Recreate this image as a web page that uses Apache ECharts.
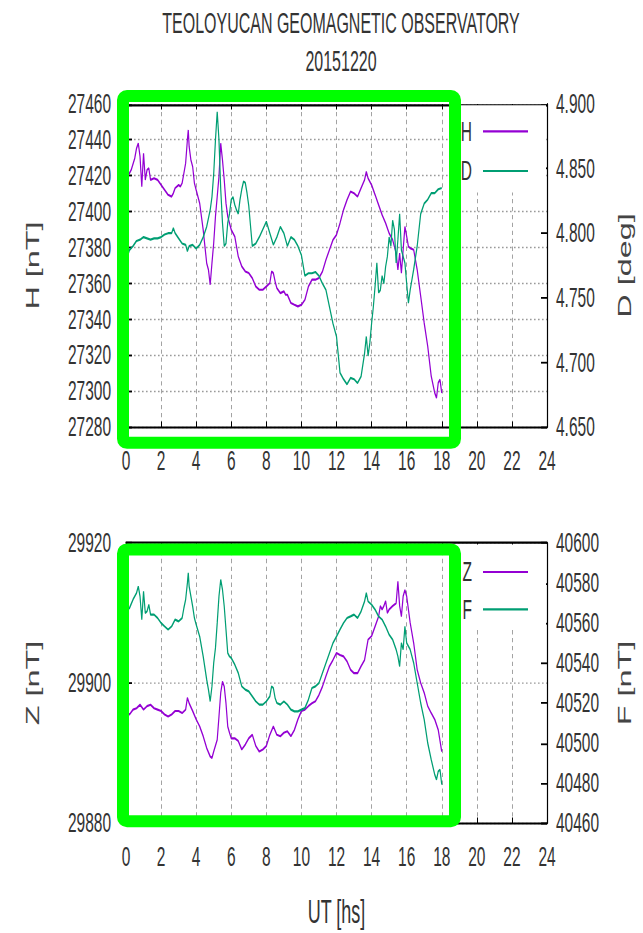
<!DOCTYPE html>
<html>
<head>
<meta charset="utf-8">
<script src="https://cdn.jsdelivr.net/npm/echarts@6/dist/echarts.min.js"></script>
<style>
  html { margin: 0; padding: 0; background: #fff; }
  body { margin: 0; padding: 0; background: #fff; width: 643px; height: 933px; position: relative; }
  #chart { position: absolute; left: 0; top: 0; width: 643px; height: 518.333px; transform: scaleY(1.8); transform-origin: 0 0; }
</style>
</head>
<body>
<div id="chart"></div>
<script>
// ---------------- data ----------------
const titleText = 'TEOLOYUCAN GEOMAGNETIC OBSERVATORY';
const dateText = '20151220';
const xTicks = [0, 2, 4, 6, 8, 10, 12, 14, 16, 18, 20, 22, 24];

const hTime = [0,0.1,0.3,0.5,0.6,0.7,0.8,0.9,1.0,1.1,1.2,1.3,1.4,1.6,1.8,2.0,2.2,2.4,2.6,2.7,2.8,3.0,3.1,3.2,3.3,3.4,3.5,3.55,3.6,3.7,3.8,3.9,4.0,4.2,4.4,4.6,4.7,4.8,4.9,5.0,5.1,5.2,5.3,5.4,5.5,5.6,5.7,5.8,6.0,6.2,6.4,6.6,6.8,7.0,7.2,7.4,7.6,7.8,8.0,8.2,8.3,8.4,8.5,8.6,8.8,9.0,9.1,9.2,9.4,9.6,9.8,10.0,10.2,10.4,10.6,10.8,11.0,11.2,11.4,11.6,11.8,12.0,12.2,12.4,12.6,12.8,13.0,13.2,13.4,13.6,13.7,13.8,14.0,14.2,14.4,14.6,14.8,15.0,15.2,15.4,15.5,15.6,15.7,15.8,15.9,16.0,16.1,16.2,16.4,16.6,16.8,17.0,17.2,17.4,17.6,17.7,17.8,17.9,18.0];
const hValues = [27414,27419.6,27423.3,27429.8,27435.3,27438.1,27430.7,27414,27432.5,27417.7,27423.3,27424.2,27417.7,27418.6,27417.7,27414.9,27412.1,27409.4,27408.4,27410.3,27413.1,27414.9,27414,27415.9,27421.4,27427,27440,27445.5,27436.3,27428.8,27425.1,27415.9,27412.1,27404.7,27389.9,27371.3,27367.6,27359.3,27371.3,27382.5,27397.3,27408.4,27419.6,27438.1,27428.8,27417.7,27404.7,27397.3,27389.9,27386.2,27375,27369.5,27366.7,27365.8,27363,27358.3,27356.5,27356.5,27358.3,27360.2,27366.7,27365.8,27361.1,27357.4,27354.6,27355.6,27353.7,27353.7,27349.1,27348.1,27347.2,27348.1,27350.9,27358.3,27362.1,27362.1,27363,27366.7,27373.2,27378.8,27384.3,27387.1,27393.6,27401,27406.6,27411.2,27410.3,27408.4,27413.1,27417.7,27422.3,27418.6,27414.9,27409.4,27403.8,27398.2,27393.6,27388,27384.3,27376.9,27367.6,27376.9,27365.8,27378.8,27391.7,27386.2,27380.6,27379.7,27378.8,27367.6,27352.8,27337.9,27325,27308.3,27299,27296.2,27304.6,27306.4,27299];

const dTime = [0,0.1,0.2,0.4,0.6,0.8,1.0,1.2,1.4,1.6,1.8,2.0,2.2,2.4,2.6,2.7,2.8,3.0,3.2,3.4,3.5,3.6,3.8,4.0,4.2,4.4,4.6,4.8,4.9,5.0,5.1,5.2,5.3,5.4,5.5,5.6,5.7,5.8,5.9,6.0,6.1,6.2,6.3,6.4,6.5,6.6,6.7,6.8,6.9,7.0,7.2,7.4,7.6,7.8,8.0,8.2,8.4,8.6,8.8,9.0,9.2,9.4,9.6,9.8,10.0,10.2,10.4,10.6,10.8,11.0,11.2,11.4,11.6,11.8,12.0,12.2,12.4,12.6,12.8,13.0,13.2,13.4,13.6,13.7,13.8,13.9,14.0,14.1,14.2,14.3,14.4,14.5,14.6,14.7,14.8,14.9,15.0,15.1,15.2,15.3,15.4,15.5,15.6,15.7,15.8,15.9,16.0,16.1,16.2,16.3,16.4,16.6,16.8,17.0,17.2,17.4,17.6,17.8,18.0];
const dValues = [4.779,4.783,4.787,4.790,4.794,4.795,4.797,4.796,4.795,4.796,4.796,4.797,4.799,4.800,4.800,4.804,4.800,4.796,4.792,4.791,4.786,4.790,4.791,4.788,4.791,4.797,4.805,4.818,4.828,4.846,4.872,4.894,4.872,4.834,4.808,4.790,4.792,4.808,4.815,4.826,4.828,4.822,4.818,4.815,4.826,4.834,4.840,4.839,4.831,4.821,4.790,4.792,4.797,4.803,4.809,4.800,4.791,4.797,4.805,4.800,4.790,4.797,4.795,4.790,4.783,4.767,4.769,4.769,4.770,4.767,4.761,4.756,4.743,4.730,4.720,4.692,4.687,4.683,4.688,4.687,4.684,4.689,4.707,4.720,4.705,4.715,4.730,4.743,4.759,4.777,4.754,4.756,4.767,4.761,4.774,4.782,4.797,4.790,4.810,4.803,4.777,4.795,4.815,4.787,4.782,4.777,4.761,4.746,4.756,4.764,4.772,4.790,4.815,4.823,4.826,4.831,4.831,4.834,4.835];

const zTime = [0,0.1,0.2,0.4,0.6,0.8,1.0,1.2,1.4,1.6,1.8,2.0,2.2,2.4,2.6,2.8,3.0,3.2,3.4,3.5,3.6,3.8,4.0,4.2,4.4,4.6,4.8,4.9,5.0,5.2,5.3,5.4,5.5,5.6,5.7,5.8,5.9,6.0,6.2,6.4,6.6,6.8,7.0,7.2,7.4,7.6,7.8,8.0,8.2,8.4,8.6,8.8,9.0,9.2,9.4,9.6,9.8,10.0,10.2,10.4,10.6,10.8,11.0,11.2,11.4,11.6,11.8,12.0,12.2,12.4,12.6,12.8,13.0,13.2,13.4,13.6,13.8,14.0,14.2,14.4,14.5,14.6,14.7,14.8,14.9,15.0,15.2,15.4,15.5,15.6,15.7,15.8,15.9,16.0,16.2,16.4,16.6,16.8,17.0,17.2,17.4,17.6,17.8,18.0];
const zValues = [29895.2,29895.7,29895.5,29896.2,29896.4,29896.9,29896.2,29896.7,29896.9,29896.4,29896.2,29896.0,29895.5,29895.2,29895.5,29896.0,29896.0,29895.7,29896.2,29897.9,29897.1,29896.0,29894.8,29893.8,29892.4,29890.7,29889.5,29889.3,29890.2,29891.9,29895.2,29898.6,29900.2,29899.5,29897.1,29893.8,29892.9,29892.1,29892.1,29891.7,29890.5,29891.2,29892.1,29892.6,29891.0,29890.2,29890.5,29891.0,29892.6,29893.8,29892.6,29892.4,29892.9,29893.1,29892.4,29893.3,29894.8,29896.0,29896.2,29896.7,29897.1,29897.4,29898.3,29899.5,29901.0,29902.4,29903.3,29904.3,29904.0,29903.8,29903.1,29901.9,29901.4,29901.4,29902.4,29903.3,29906.2,29906.7,29908.1,29909.5,29911.0,29910.5,29911.0,29911.7,29910.0,29910.5,29911.0,29911.4,29914.5,29911.0,29909.5,29912.4,29913.3,29912.4,29908.6,29905.7,29901.9,29900.0,29898.6,29896.7,29895.7,29894.8,29893.3,29890.2];

const fTime = [0,0.1,0.2,0.4,0.6,0.7,0.8,0.9,1.0,1.1,1.2,1.3,1.4,1.6,1.8,2.0,2.2,2.4,2.6,2.8,3.0,3.2,3.3,3.4,3.5,3.55,3.6,3.7,3.8,3.9,4.0,4.2,4.4,4.6,4.7,4.8,4.9,5.0,5.1,5.2,5.3,5.4,5.5,5.6,5.7,5.8,5.9,6.0,6.2,6.4,6.6,6.8,7.0,7.2,7.4,7.6,7.8,8.0,8.2,8.3,8.4,8.5,8.6,8.8,9.0,9.2,9.4,9.6,9.8,10.0,10.2,10.4,10.6,10.8,11.0,11.2,11.4,11.6,11.8,12.0,12.2,12.4,12.6,12.8,13.0,13.2,13.4,13.6,13.7,13.8,14.0,14.2,14.4,14.6,14.8,15.0,15.2,15.4,15.5,15.6,15.7,15.8,15.9,16.0,16.2,16.4,16.6,16.8,17.0,17.2,17.4,17.6,17.7,17.8,17.9,18.0];
const fValues = [40562.5,40566.7,40567.5,40571.7,40575,40578.3,40573.3,40561.7,40575.8,40565,40565.8,40569.2,40564.2,40564.2,40562.5,40560,40558.3,40556.7,40558.3,40561.7,40560.8,40562.5,40567.5,40571.7,40580,40585,40578.3,40573.3,40568.3,40562.5,40559.2,40553.3,40543.3,40531.7,40526.7,40520.8,40528.3,40540,40547.5,40560,40573.3,40581.7,40576.7,40568.3,40556.7,40545,40543.3,40542.5,40539.2,40535,40528.3,40526.7,40525.8,40523.3,40520.8,40519.2,40519.2,40520.8,40523.3,40528.3,40527.5,40522.5,40520,40519.2,40520.8,40519.2,40516.7,40515.8,40515.8,40516.7,40517.5,40521.7,40527.5,40528.3,40530,40535,40540,40545,40550,40553.3,40556.7,40560,40562.5,40563.3,40564.2,40562.5,40565.8,40570.8,40575,40570.8,40569.2,40566.7,40563.3,40561.7,40558.3,40554.2,40551.7,40546.7,40543.3,40538.3,40550,40546.7,40558.3,40550,40546.7,40540,40530,40520,40511.7,40500,40491.7,40484.2,40481.7,40485.8,40486.7,40479.2];

// ---------------- layout / style ----------------
const K = 1.8;                 // vertical stretch of the reference picture
const FONT = "'Liberation Sans', Arial, sans-serif";
const TXT = '#333';
const GRIDC = '#9a9a9a';
const PURPLE = '#9400d3';
const GREEN = '#009e73';
const pairs = (ts, vs) => ts.map((t, i) => [t, vs[i]]);

const chart = echarts.init(document.getElementById('chart'), null, { renderer: 'svg', width: 643, height: 933 / K });

function xAxes(gridIndex, withName) {
  const common = {
    type: 'value', gridIndex, min: xTicks[0], max: xTicks[xTicks.length - 1], interval: 2,
    axisLine: { show: true, onZero: false, lineStyle: { color: '#000', width: 1.2 } },
    axisTick: { show: true, inside: true, length: 3, lineStyle: { color: '#000', width: 1 } }
  };
  return [
    Object.assign({}, common, {
      position: 'bottom',
      axisLabel: { show: true, margin: 11, fontSize: 15.5, fontFamily: FONT, color: TXT },
      splitLine: { show: true, lineStyle: { color: GRIDC, width: 0.9, type: [2.4, 2.0] } },
      name: withName ? 'UT [hs]' : '',
      nameLocation: 'middle', nameGap: 40.5,
      nameTextStyle: { fontSize: 18, fontFamily: FONT, color: TXT }
    }),
    Object.assign({}, common, {
      position: 'top', axisLabel: { show: false }, splitLine: { show: false }
    })
  ];
}

function yAxis(gridIndex, pos, name, min, max, interval, grid, fmt) {
  return {
    type: 'value', gridIndex, position: pos, min, max, interval,
    name, nameLocation: 'middle', nameRotate: 90, nameGap: pos === 'left' ? 84 : 69,
    nameTextStyle: { fontSize: 18, fontFamily: FONT, color: '#444' },
    axisLine: { show: true, onZero: false, lineStyle: { color: '#000', width: 1.2 } },
    axisTick: { show: true, inside: true, length: 6, lineStyle: { color: '#000', width: 1 } },
    axisLabel: { show: true, margin: pos === 'left' ? 15 : 9, fontSize: 15.5, fontFamily: FONT, color: TXT,
      formatter: fmt || (v => String(Math.round(v))) },
    splitLine: { show: grid, lineStyle: { color: GRIDC, width: 0.8, type: [1.6, 2.4] } }
  };
}

function legend(names, top, pad, gap) {
  return {
    data: names, orient: 'vertical', right: 97, top, align: 'right', icon: 'rect',
    itemWidth: 45, itemHeight: 1.2, itemGap: gap, padding: pad,
    backgroundColor: '#fff', selectedMode: false,
    textStyle: { fontSize: 15.5, fontFamily: FONT, color: TXT, padding: [0, 6, 0, 0] }
  };
}

function line(name, data, xi, yi, color) {
  return {
    name, type: 'line', data, xAxisIndex: xi, yAxisIndex: yi,
    showSymbol: false, symbol: 'none', color,
    lineStyle: { color, width: 1.2 }, animation: false
  };
}

const option = {
  animation: false,
  backgroundColor: '#fff',
  grid: [
    { left: 126, right: 96, top: 104 / K, height: (427 - 104) / K },
    { left: 126, right: 96, top: 543 / K, height: (823 - 543) / K }
  ],
  xAxis: [].concat(xAxes(0, false), xAxes(1, true)),
  yAxis: [
    yAxis(0, 'left', 'H [nT]', 27280, 27460, 20, true),
    yAxis(0, 'right', 'D [deg]', 4.65, 4.9, 0.05, false, v => v.toFixed(3)),
    yAxis(1, 'left', 'Z [nT]', 29880, 29920, 20, true),
    yAxis(1, 'right', 'F [nT]', 40460, 40600, 20, false)
  ],
  legend: [
    legend(['H', 'D'], 58.5, [6.5, 18, 4, 5], 6),
    legend(['Z', 'F'], 302.5, [7.3, 18, 3, 5], 4.7)
  ],
  series: [
    line('H', pairs(hTime, hValues), 0, 0, PURPLE),
    line('D', pairs(dTime, dValues), 0, 1, GREEN),
    line('Z', pairs(zTime, zValues), 2, 2, PURPLE),
    line('F', pairs(fTime, fValues), 2, 3, GREEN)
  ],
  graphic: [
    { type: 'text', x: 341, y: 23 / K, z: 50,
      style: { text: titleText, fontSize: 16, fontFamily: FONT, fill: TXT, align: 'center', verticalAlign: 'middle' } },
    { type: 'text', x: 341, y: 61 / K, z: 50,
      style: { text: dateText, fontSize: 16, fontFamily: FONT, fill: TXT, align: 'center', verticalAlign: 'middle' } },
    { type: 'rect', x: 0, y: 0, scaleY: 1 / K, z: 100,
      shape: { x: 123, y: 96, width: 332, height: 346.5, r: 4 },
      style: { fill: 'none', stroke: '#00ff00', lineWidth: 12 } },
    { type: 'rect', x: 0, y: 0, scaleY: 1 / K, z: 100,
      shape: { x: 123, y: 549, width: 332, height: 271.5, r: 4 },
      style: { fill: 'none', stroke: '#00ff00', lineWidth: 12 } }
  ]
};
chart.setOption(option);
</script>
</body>
</html>
